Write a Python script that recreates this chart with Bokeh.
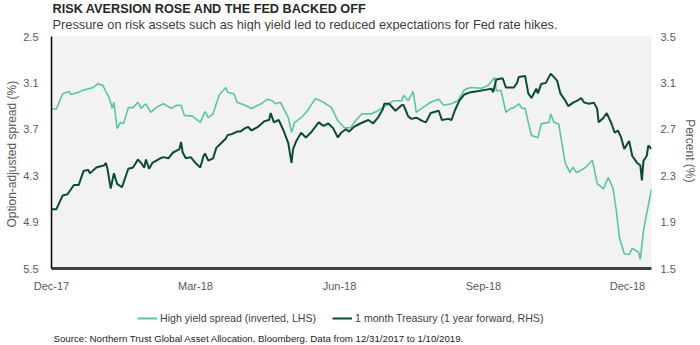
from bokeh.plotting import figure
from bokeh.models import Range1d, LinearAxis, FixedTicker, Label, Legend, LegendItem
from bokeh.layouts import column
from bokeh.embed import file_html
from bokeh.resources import INLINE

# ---------------- data ----------------
# x values: days after 31 Dec 2017
hy_days = [0, 3, 7, 11, 12, 17, 19, 26, 29, 32, 36, 38, 39, 41, 43, 45, 48, 51, 54, 56,
           59, 62, 66, 70, 75, 78, 81, 83, 88, 93, 96, 98, 101, 103, 105, 109, 110, 114, 116, 121,
           125, 131, 135, 138, 140, 143, 148, 150, 152, 156, 160, 165, 170, 175, 179, 183, 187, 190, 194, 200,
           204, 210, 214, 219, 220, 223, 226, 228, 232, 237, 242, 245, 250, 254, 258, 262, 269, 273, 277, 278,
           281, 284, 287, 289, 292, 294, 296, 298, 300, 304, 306, 311, 312, 314, 317, 319, 321, 324, 326, 328,
           331, 334, 338, 339, 341, 345, 348, 351, 353, 355, 358, 361, 363, 367, 368, 370, 372, 375]
hy_spread = [3.43, 3.44, 3.24, 3.21, 3.25, 3.22, 3.20, 3.16, 3.11, 3.13, 3.29, 3.43, 3.35, 3.69, 3.61, 3.63, 3.42, 3.42, 3.35, 3.43,
             3.37, 3.48, 3.41, 3.37, 3.43, 3.39, 3.39, 3.52, 3.53, 3.61, 3.47, 3.55, 3.50, 3.37, 3.25, 3.16, 3.22, 3.24, 3.35, 3.39,
             3.43, 3.37, 3.31, 3.33, 3.37, 3.35, 3.55, 3.74, 3.61, 3.55, 3.46, 3.30, 3.35, 3.42, 3.59, 3.68, 3.68, 3.59, 3.50, 3.50,
             3.46, 3.38, 3.33, 3.33, 3.26, 3.33, 3.21, 3.48, 3.42, 3.35, 3.31, 3.39, 3.37, 3.33, 3.19, 3.16, 3.17, 3.13, 3.03, 3.20,
             3.20, 3.48, 3.43, 3.42, 3.37, 3.43, 3.43, 3.61, 3.78, 3.81, 3.63, 3.61, 3.50, 3.61, 3.63, 3.88, 4.13, 4.26, 4.19, 4.26,
             4.23, 4.19, 4.10, 4.19, 4.40, 4.47, 4.32, 4.47, 4.75, 5.11, 5.31, 5.32, 5.24, 5.29, 5.38, 5.01, 4.79, 4.47]

tsy_days = [0, 3, 7, 10, 14, 17, 20, 23, 24, 28, 33, 34, 35, 37, 39, 41, 44, 48, 51, 54,
            56, 58, 59, 61, 63, 68, 70, 73, 76, 80, 81, 82, 84, 87, 90, 93, 95, 96, 98, 101,
            103, 106, 109, 110, 113, 116, 118, 121, 123, 125, 129, 133, 136, 137, 139, 142, 145, 148, 150, 151,
            153, 156, 159, 162, 167, 170, 173, 176, 179, 181, 184, 186, 189, 193, 198, 201, 204, 207, 208, 211,
            215, 219, 220, 223, 225, 228, 232, 234, 237, 242, 244, 248, 250, 252, 255, 258, 262, 267, 271, 275,
            276, 278, 282, 284, 289, 291, 292, 296, 298, 300, 303, 304, 306, 309, 312, 316, 318, 321, 323, 326,
            329, 331, 333, 336, 339, 341, 342, 345, 347, 350, 352, 354, 356, 358, 361, 363, 366, 368, 369, 370,
            372, 373, 375]
tsy_rate = [2.01, 2.01, 2.13, 2.14, 2.22, 2.22, 2.34, 2.35, 2.32, 2.37, 2.39, 2.41, 2.36, 2.19, 2.32, 2.23, 2.20, 2.36, 2.37, 2.44,
            2.41, 2.37, 2.44, 2.36, 2.41, 2.45, 2.46, 2.45, 2.50, 2.53, 2.59, 2.50, 2.45, 2.46, 2.41, 2.37, 2.47, 2.49, 2.43, 2.45,
            2.54, 2.58, 2.62, 2.65, 2.66, 2.68, 2.68, 2.71, 2.72, 2.69, 2.72, 2.77, 2.78, 2.84, 2.76, 2.78, 2.69, 2.58, 2.41, 2.53,
            2.60, 2.67, 2.63, 2.67, 2.76, 2.73, 2.75, 2.71, 2.63, 2.67, 2.70, 2.68, 2.72, 2.75, 2.78, 2.75, 2.80, 2.87, 2.92, 2.92,
            2.86, 2.91, 2.91, 2.81, 2.79, 2.80, 2.77, 2.76, 2.84, 2.86, 2.78, 2.79, 2.78, 2.86, 2.95, 3.00, 3.02, 3.03, 3.04, 3.05,
            3.02, 3.13, 3.14, 3.06, 3.06, 3.10, 3.15, 3.16, 3.01, 2.97, 3.05, 3.01, 3.09, 3.10, 3.18, 3.12, 3.01, 2.95, 2.90, 2.93,
            2.95, 2.97, 2.93, 2.92, 2.93, 2.88, 2.76, 2.80, 2.84, 2.75, 2.67, 2.69, 2.63, 2.53, 2.60, 2.47, 2.41, 2.39, 2.26, 2.43,
            2.47, 2.56, 2.53]

x_tick_days = [0, 90, 180, 270, 360]
x_tick_labels = ["Dec-17", "Mar-18", "Jun-18", "Sep-18", "Dec-18"]
left_ticks = [2.5, 3.1, 3.7, 4.3, 4.9, 5.5]
right_ticks = [1.5, 1.9, 2.3, 2.7, 3.1, 3.5]

title_text = "RISK AVERSION ROSE AND THE FED BACKED OFF"
subtitle_text = "Pressure on risk assets such as high yield led to reduced expectations for Fed rate hikes."
source_text = "Source: Northern Trust Global Asset Allocation, Bloomberg. Data from 12/31/2017 to 1/10/2019."
hy_label = "High yield spread (inverted, LHS)"
tsy_label = "1 month Treasury (1 year forward, RHS)"

# ---------------- styling ----------------
FONT = "Liberation Sans"
TEAL = "#5BC3A8"
DARK = "#0B4A34"
GREY_TXT = "#595959"
W = 700
TOP_H, MAIN_H, BOT_H = 31, 269, 45


def blank(height):
    f = figure(width=W, height=height, x_range=Range1d(0, W), y_range=Range1d(0, height),
               output_backend="svg", toolbar_location=None,
               x_axis_location=None, y_axis_location=None, min_border=0,
               outline_line_color=None, background_fill_color="white", border_fill_color="white")
    f.frame_align = False
    f.grid.visible = False
    return f


# ---------- header (title + subtitle) ----------
top = blank(TOP_H)
top.add_layout(Label(x=52, y=TOP_H - 8, text=title_text, text_font=FONT, text_font_size="12.7px",
                     text_font_style="bold", text_color="#262626", text_baseline="middle"))
top.add_layout(Label(x=52, y=TOP_H - 24, text=subtitle_text, text_font=FONT, text_font_size="12.8px",
                     text_color="#404040", text_baseline="middle"))

# ---------- main chart ----------
p = figure(width=W, height=MAIN_H,
           x_range=Range1d(0, 375), y_range=Range1d(5.5, 2.5),
           output_backend="svg", toolbar_location=None,
           min_border_left=51, min_border_right=49, min_border_top=5, min_border_bottom=32,
           background_fill_color="#f2f2f2", border_fill_color="white",
           outline_line_color=None)
p.frame_align = False
p.grid.visible = False

ly = p.yaxis[0]
ly.ticker = FixedTicker(ticks=left_ticks)
ly.major_tick_line_color = None
ly.minor_tick_line_color = None
ly.major_tick_out = 0
ly.major_tick_in = 0
ly.minor_tick_out = 0
ly.axis_line_color = "#000000"
ly.axis_line_width = 1.5
ly.major_label_standoff = 13
ly.major_label_text_font = FONT
ly.major_label_text_font_size = "11px"
ly.major_label_text_color = GREY_TXT
ly.axis_label = "Option-adjusted  spread (%)"
ly.axis_label_text_font = FONT
ly.axis_label_text_font_size = "12px"
ly.axis_label_text_font_style = "normal"
ly.axis_label_text_color = GREY_TXT
ly.axis_label_standoff = 1

bx = p.xaxis[0]
bx.ticker = FixedTicker(ticks=x_tick_days)
bx.major_label_overrides = {d: lab for d, lab in zip(x_tick_days, x_tick_labels)}
bx.major_tick_line_color = None
bx.minor_tick_line_color = None
bx.major_tick_out = 0
bx.major_tick_in = 0
bx.minor_tick_out = 0
bx.axis_line_color = "#404040"
bx.axis_line_width = 3
bx.major_label_standoff = 11
bx.major_label_text_font = FONT
bx.major_label_text_font_size = "11px"
bx.major_label_text_color = GREY_TXT

p.extra_y_ranges = {"r": Range1d(1.5, 3.5)}
ry = LinearAxis(y_range_name="r", ticker=FixedTicker(ticks=right_ticks))
ry.major_tick_line_color = None
ry.minor_tick_line_color = None
ry.major_tick_out = 0
ry.major_tick_in = 0
ry.minor_tick_out = 0
ry.axis_line_color = None
ry.major_label_standoff = 9
ry.major_label_text_font = FONT
ry.major_label_text_font_size = "11px"
ry.major_label_text_color = GREY_TXT
ry.axis_label = "Percent  (%)"
ry.axis_label_text_font = FONT
ry.axis_label_text_font_size = "12px"
ry.axis_label_text_font_style = "normal"
ry.axis_label_text_color = GREY_TXT
ry.axis_label_standoff = 4
ry.axis_label_orientation = "vertical"
p.add_layout(ry, "right")

p.line(hy_days, hy_spread, line_color=TEAL, line_width=1.6)
p.line(tsy_days, tsy_rate, y_range_name="r", line_color=DARK, line_width=2)

# ---------- footer (legend + source) ----------
bot = blank(BOT_H)
# one-point line renderers that only serve as legend swatches (draw nothing themselves)
sw_hy = bot.line([hy_days[-1]], [hy_spread[-1]], line_color=TEAL, line_width=2)
sw_tsy = bot.line([tsy_days[-1]], [tsy_rate[-1]], line_color=DARK, line_width=2)
legend = Legend(items=[LegendItem(label=hy_label, renderers=[sw_hy]),
                       LegendItem(label=tsy_label, renderers=[sw_tsy])],
                location=(137, BOT_H - 18 - 7), orientation="horizontal",
                border_line_color=None, background_fill_alpha=0,
                padding=0, margin=0, spacing=16,
                glyph_width=20, glyph_height=14, label_height=14, label_standoff=3,
                label_text_font=FONT, label_text_font_size="10.6px", label_text_color="#404040")
bot.add_layout(legend)
bot.add_layout(Label(x=53, y=BOT_H - 38, text=source_text, text_font=FONT, text_font_size="9.7px",
                     text_color="#222222", text_baseline="middle"))

layout = column(top, p, bot, spacing=0)
open("out.html", "w").write(file_html(layout, INLINE))
